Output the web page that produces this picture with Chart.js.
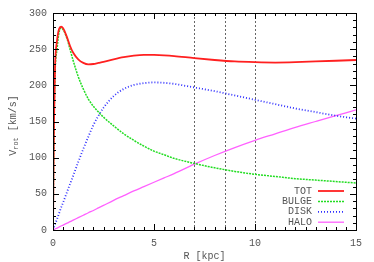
<!DOCTYPE html>
<html>
<head>
<meta charset="utf-8">
<script src="https://cdn.jsdelivr.net/npm/chart.js@4"></script>
<style>
  html, body { margin: 0; padding: 0; background: #fff; }
  #wrap { width: 374px; height: 262px; }
</style>
</head>
<body>
<div id="wrap"><canvas id="myChart" width="374" height="262"></canvas></div>
<script>
// radius grid [kpc] and rotation velocities [km/s]
const radius = [0, 0.05, 0.1, 0.2, 0.3, 0.4, 0.5, 0.7, 0.85, 1, 1.25, 1.5, 1.75, 2, 2.25, 2.5, 3, 3.5, 4, 4.5, 5, 5.5, 6, 7, 8, 9, 10, 11, 12, 13, 14, 15];
const vTot   = [0, 150, 225, 262, 278, 281, 279, 266, 254, 245, 236, 231, 229, 229.5, 231, 232.5, 236, 239, 241, 242, 242, 241.5, 240.5, 237.5, 235, 233, 232, 231.5, 232, 233, 234, 235];
const vBulge = [0, 140, 215, 250, 273, 279, 277, 264, 249, 234, 212, 195, 181, 171, 163, 156, 144, 133, 124, 116, 109, 104, 99, 92, 86, 81, 77, 74, 71, 69, 67, 65];
const vDisk  = [0, 4, 8, 15, 23, 31, 38, 53, 64, 75, 94, 112, 129, 145, 158, 169, 185, 195, 200.5, 203, 204, 203.5, 202, 197, 192, 186, 180, 174, 168, 163, 158, 154];
const vHalo  = [0, 0.7, 1.4, 2.7, 4.1, 5.5, 6.8, 9.5, 11.5, 13.6, 17, 20.4, 23.8, 27, 30.5, 34, 41, 47.5, 54, 60, 66, 72, 78, 91, 103, 114, 124, 133, 142, 150, 158, 166];
const markerR = [7, 8.5, 10];
const xTicks = [0, 5, 10, 15];
const yTicks = [0, 50, 100, 150, 200, 250, 300];

const FONT = '"Liberation Mono", "DejaVu Sans Mono", monospace';

const series = [
  { label: 'TOT',   data: vTot,   color: '#ff2020', dash: [],     width: 1.8 },
  { label: 'BULGE', data: vBulge, color: '#22dd22', dash: [2, 1], width: 1.5 },
  { label: 'DISK',  data: vDisk,  color: '#3030ff', dash: [1, 2], width: 1.8 },
  { label: 'HALO',  data: vHalo,  color: '#ff60ff', dash: [],     width: 1.3 }
];

const datasets = series.map(s => ({
  label: s.label,
  data: radius.map((r, i) => ({ x: r, y: s.data[i] })),
  borderColor: s.color,
  borderWidth: s.width,
  borderDash: s.dash,
  pointRadius: 0,
  cubicInterpolationMode: 'monotone',
  fill: false
}));

// frame, inward ticks, marker lines, titles, legend
const decorations = {
  id: 'decorations',
  beforeDatasetsDraw(chart) {
    const { ctx, chartArea: a, scales: { x } } = chart;
    ctx.save();
    ctx.strokeStyle = '#666';
    ctx.lineWidth = 1;
    ctx.setLineDash([2, 2]);
    markerR.forEach(r => {
      const px = Math.round(x.getPixelForValue(r)) + 0.5;
      ctx.beginPath();
      ctx.moveTo(px, a.top);
      ctx.lineTo(px, a.bottom);
      ctx.stroke();
    });
    ctx.restore();
  },
  afterDraw(chart) {
    const { ctx, chartArea: a, scales: { x, y } } = chart;
    ctx.save();
    ctx.strokeStyle = '#000';
    ctx.lineWidth = 1;
    ctx.strokeRect(Math.round(a.left) + 0.5, Math.round(a.top) + 0.5,
                   Math.round(a.right - a.left), Math.round(a.bottom - a.top));
    ctx.beginPath();
    for (let v = 0; v <= 15.001; v += 0.5) {
      const px = Math.round(x.getPixelForValue(v)) + 0.5;
      const len = (Math.abs(v % 5) < 1e-6) ? 6 : 3;
      ctx.moveTo(px, a.bottom); ctx.lineTo(px, a.bottom - len);
      ctx.moveTo(px, a.top); ctx.lineTo(px, a.top + len);
    }
    for (let v = 0; v <= 300; v += 10) {
      const py = Math.round(y.getPixelForValue(v)) + 0.5;
      const len = (v % 50 === 0) ? 6 : 3;
      ctx.moveTo(a.left, py); ctx.lineTo(a.left + len, py);
      ctx.moveTo(a.right, py); ctx.lineTo(a.right - len, py);
    }
    ctx.stroke();

    // axis titles
    ctx.fillStyle = '#555';
    ctx.font = '10px ' + FONT;
    ctx.textAlign = 'center';
    ctx.textBaseline = 'middle';
    ctx.fillText('R [kpc]', (a.left + a.right) / 2, 256);

    ctx.save();
    ctx.translate(13, (a.top + a.bottom) / 2 + 4);
    ctx.rotate(-Math.PI / 2);
    ctx.textAlign = 'left';
    const big = '10px ' + FONT, small = '7px ' + FONT;
    ctx.font = big;  const w1 = ctx.measureText('V').width;
    ctx.font = small; const w2 = ctx.measureText('rot').width;
    ctx.font = big;  const w3 = ctx.measureText(' [km/s]').width;
    let sx = -(w1 + w2 + w3) / 2;
    ctx.font = big; ctx.fillText('V', sx, 0); sx += w1;
    ctx.font = small; ctx.fillText('rot', sx, 3); sx += w2;
    ctx.font = big; ctx.fillText(' [km/s]', sx, 0);
    ctx.restore();

    // legend
    ctx.font = '10px ' + FONT;
    ctx.textAlign = 'right';
    ctx.textBaseline = 'middle';
    series.forEach((s, i) => {
      const ly = 191 + i * 10.4;
      ctx.fillStyle = '#555';
      ctx.fillText(s.label, 312, ly);
      ctx.strokeStyle = s.color;
      ctx.lineWidth = s.width;
      ctx.setLineDash(s.dash);
      ctx.beginPath();
      ctx.moveTo(318, ly);
      ctx.lineTo(344, ly);
      ctx.stroke();
    });
    ctx.setLineDash([]);
    ctx.restore();
  }
};

const ctx = document.getElementById('myChart').getContext('2d');
const myChart = new Chart(ctx, {
  type: 'line',
  data: { datasets },
  options: {
    responsive: false,
    animation: false,
    layout: { padding: { left: 0, top: 13, right: 18, bottom: 0 } },
    plugins: { legend: { display: false }, tooltip: { enabled: false } },
    scales: {
      x: {
        type: 'linear', min: 0, max: 15,
        afterFit: s => { s.height = 32; },
        afterBuildTicks: s => { s.ticks = xTicks.map(v => ({ value: v })); },
        grid: { display: false, drawTicks: false },
        border: { display: false },
        ticks: { color: '#555', padding: 7, maxRotation: 0, font: { family: FONT, size: 10 } }
      },
      y: {
        type: 'linear', min: 0, max: 300,
        afterFit: s => { s.width = 53; },
        afterBuildTicks: s => { s.ticks = yTicks.map(v => ({ value: v })); },
        grid: { display: false, drawTicks: false },
        border: { display: false },
        ticks: { color: '#555', padding: 6, font: { family: FONT, size: 10 } }
      }
    }
  },
  plugins: [decorations]
});
</script>
</body>
</html>
